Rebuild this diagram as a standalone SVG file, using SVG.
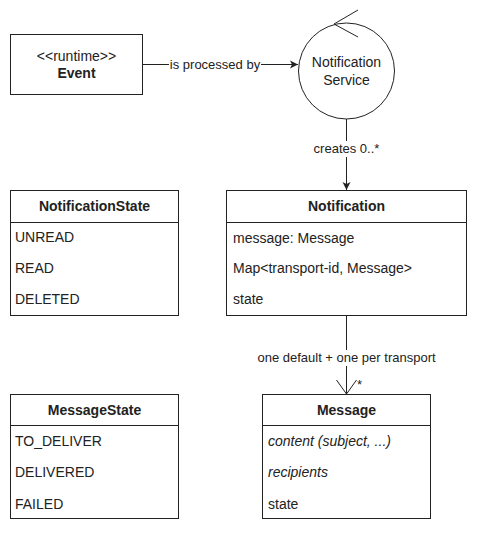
<svg xmlns="http://www.w3.org/2000/svg" width="477" height="533" viewBox="0 0 477 533">
<style>
text{font-family:"Liberation Sans",Arial,sans-serif;font-size:14px;fill:#222}
.l{font-size:13px}
.b{font-weight:bold}
.c{text-anchor:middle}
.i{font-style:italic}
.box{fill:#fff;stroke:#222;stroke-width:1}
.ln{stroke:#222;stroke-width:1;fill:none}
.lbl{fill:#fff;stroke:none}
</style>
<defs>
<marker id="fill" markerWidth="10" markerHeight="10" refX="9" refY="5" orient="auto" markerUnits="userSpaceOnUse">
<path d="M1,1 L9,5 L1,9 L3,5 Z" fill="#222"/>
</marker>
<marker id="open" markerWidth="24" markerHeight="24" refX="15" refY="12" orient="auto" markerUnits="userSpaceOnUse">
<path d="M1,2 L15,12 L1,22" fill="none" stroke="#222" stroke-width="1"/>
</marker>
</defs>
<g id="connectors">
<line class="ln" x1="142" y1="64.5" x2="298" y2="64.5" marker-end="url(#fill)"/>
<rect class="lbl" x="169" y="57" width="92" height="16"/>
<text class="c l" x="215" y="69">is processed by</text>
<line class="ln" x1="346.5" y1="119" x2="346.5" y2="190" marker-end="url(#fill)"/>
<rect class="lbl" x="311" y="141" width="71" height="16"/>
<text class="c l" x="346.5" y="153">creates 0..*</text>
<line class="ln" x1="346.5" y1="316" x2="346.5" y2="394" marker-end="url(#open)"/>
<rect class="lbl" x="255" y="350" width="183" height="16"/>
<text class="c l" x="346.5" y="362">one default + one per transport</text>
<text class="l" x="357" y="389">*</text>
</g>
<g id="event">
<rect class="box" x="10.5" y="34.5" width="132" height="60"/>
<text class="c" x="76.5" y="61">&lt;&lt;runtime&gt;&gt;</text>
<text class="c b" x="76.5" y="78">Event</text>
</g>
<g id="notification-service">
<circle class="box" cx="346.5" cy="71" r="48"/>
<path class="ln" d="M358,10 L334,24 L358,37"/>
<text class="c" x="346.5" y="67">Notification</text>
<text class="c" x="346.5" y="85">Service</text>
</g>
<g id="notification-state">
<rect class="box" x="10.5" y="190.5" width="168" height="125"/>
<line class="ln" x1="10.5" y1="222.5" x2="178.5" y2="222.5"/>
<text class="c b" x="94.5" y="211">NotificationState</text>
<text x="15" y="242">UNREAD</text>
<text x="15" y="273">READ</text>
<text x="15" y="304">DELETED</text>
</g>
<g id="notification">
<rect class="box" x="226.5" y="190.5" width="240" height="125"/>
<line class="ln" x1="226.5" y1="222.5" x2="466.5" y2="222.5"/>
<text class="c b" x="346.5" y="211">Notification</text>
<text x="233" y="243">message: Message</text>
<text x="233" y="273">Map&lt;transport-id, Message&gt;</text>
<text x="233" y="304">state</text>
</g>
<g id="message-state">
<rect class="box" x="10.5" y="394.5" width="168" height="124"/>
<line class="ln" x1="10.5" y1="425.5" x2="178.5" y2="425.5"/>
<text class="c b" x="94.5" y="415">MessageState</text>
<text x="15" y="446">TO_DELIVER</text>
<text x="15" y="477">DELIVERED</text>
<text x="15" y="509">FAILED</text>
</g>
<g id="message">
<rect class="box" x="262.5" y="394.5" width="168" height="124"/>
<line class="ln" x1="262.5" y1="425.5" x2="430.5" y2="425.5"/>
<text class="c b" x="346.5" y="415">Message</text>
<text class="i" x="268" y="446">content (subject, ...)</text>
<text class="i" x="268" y="477">recipients</text>
<text x="268" y="509">state</text>
</g>
</svg>
